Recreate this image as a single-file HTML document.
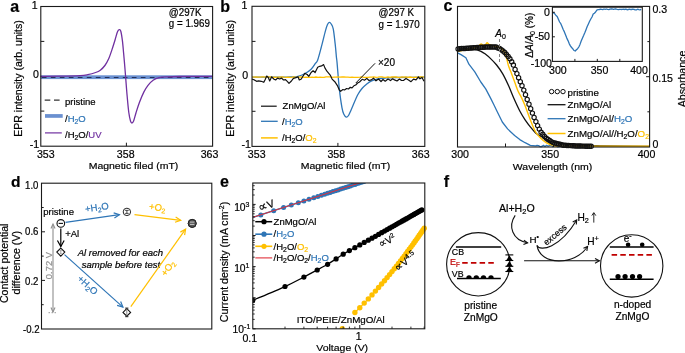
<!DOCTYPE html><html><head><meta charset="utf-8"><style>html,body{margin:0;padding:0;background:#fff;}svg{display:block;will-change:transform;}</style></head><body>
<svg width="685" height="353" viewBox="0 0 685 353" font-family="Liberation Sans, sans-serif">
<rect width="685" height="353" fill="#fff"/>
<text x="10.3" y="11.6" font-size="16.00" text-anchor="start" fill="#000" font-weight="bold" stroke="#000" stroke-width="0.2">a</text>
<rect x="40.8" y="75.3" width="171.8" height="3.8" fill="#6a90d0"/>
<line x1="41.8" y1="77.5" x2="212.6" y2="77.5" stroke="#23305a" stroke-width="1.1" stroke-dasharray="4.7,4.3"/>
<path d="M40.50,76.30 C43.75,76.28 53.42,76.32 60.00,76.20 C66.58,76.08 75.37,75.87 80.00,75.60 C84.63,75.33 85.20,75.12 87.80,74.60 C90.40,74.08 93.52,73.23 95.60,72.50 C97.68,71.77 98.75,71.37 100.30,70.20 C101.85,69.03 103.48,67.45 104.90,65.50 C106.32,63.55 107.63,61.10 108.80,58.50 C109.97,55.90 110.85,53.02 111.90,49.90 C112.95,46.78 114.18,42.78 115.10,39.80 C116.02,36.82 116.70,33.68 117.40,32.00 C118.10,30.32 118.73,29.83 119.30,29.70 C119.87,29.57 120.28,29.38 120.80,31.20 C121.32,33.02 121.93,36.97 122.40,40.60 C122.87,44.23 123.22,48.85 123.60,53.00 C123.98,57.15 124.35,61.33 124.70,65.50 C125.05,69.67 125.30,73.00 125.70,78.00 C126.10,83.00 126.58,89.75 127.10,95.50 C127.62,101.25 128.23,108.25 128.80,112.50 C129.37,116.75 129.98,119.25 130.50,121.00 C131.02,122.75 131.38,123.00 131.90,123.00 C132.42,123.00 132.90,122.75 133.60,121.00 C134.30,119.25 135.12,115.62 136.10,112.50 C137.08,109.38 138.22,105.70 139.50,102.30 C140.78,98.90 142.38,94.93 143.80,92.10 C145.22,89.27 146.45,87.28 148.00,85.30 C149.55,83.32 151.25,81.48 153.10,80.20 C154.95,78.92 156.68,78.17 159.10,77.60 C161.52,77.03 164.22,76.98 167.60,76.80 C170.98,76.62 174.00,76.57 179.40,76.50 C184.80,76.43 194.48,76.42 200.00,76.40 C205.52,76.38 210.42,76.40 212.50,76.40" fill="none" stroke="#7030a0" stroke-width="1.3"/>
<rect x="40.8" y="6.5" width="171.8" height="139.7" fill="none" stroke="#1a1a1a" stroke-width="1.1"/>
<line x1="40.8" y1="41.4" x2="44.3" y2="41.4" stroke="#1a1a1a" stroke-width="1"/>
<line x1="40.8" y1="111.1" x2="44.3" y2="111.1" stroke="#1a1a1a" stroke-width="1"/>
<line x1="126.4" y1="146.2" x2="126.4" y2="142.7" stroke="#1a1a1a" stroke-width="1"/>
<text transform="translate(37.60,9.30) scale(1,1.050)" font-size="10.60" text-anchor="end" fill="#000"  stroke="#000" stroke-width="0.2">1</text>
<text transform="translate(38.80,78.20) scale(1,1.050)" font-size="10.60" text-anchor="end" fill="#000"  stroke="#000" stroke-width="0.2">0</text>
<text transform="translate(39.20,148.00) scale(1,1.050)" font-size="10.60" text-anchor="end" fill="#000"  stroke="#000" stroke-width="0.2">-1</text>
<text transform="translate(45.80,158.00) scale(1,1.050)" font-size="10.60" text-anchor="middle" fill="#000"  stroke="#000" stroke-width="0.2">353</text>
<text transform="translate(125.70,158.00) scale(1,1.050)" font-size="10.60" text-anchor="middle" fill="#000"  stroke="#000" stroke-width="0.2">358</text>
<text transform="translate(209.50,158.00) scale(1,1.050)" font-size="10.60" text-anchor="middle" fill="#000"  stroke="#000" stroke-width="0.2">363</text>
<text transform="translate(133.50,169.20) scale(1,0.900)" font-size="10.50" text-anchor="middle" fill="#000"  stroke="#000" stroke-width="0.2">Magnetic filed (mT)</text>
<text transform="translate(22.3,78.5) rotate(-90)" font-size="10.55" text-anchor="middle" stroke="#000" stroke-width="0.2">EPR intensity (arb. units)</text>
<text transform="translate(168.80,16.00) scale(1,1.080)" font-size="9.80" text-anchor="start" fill="#000"  stroke="#000" stroke-width="0.2">@297K</text>
<text transform="translate(168.80,27.10) scale(1,1.080)" font-size="9.80" text-anchor="start" fill="#000"  stroke="#000" stroke-width="0.2">g = 1.969</text>
<line x1="44.7" y1="100.2" x2="60.5" y2="100.2" stroke="#333" stroke-width="1.3" stroke-dasharray="5.6,3.7"/>
<text x="65.0" y="104.7" font-size="9.50" text-anchor="start" fill="#000"  stroke="#000" stroke-width="0.2">pristine</text>
<rect x="45" y="114.1" width="17.7" height="3.7" fill="#6a90d0"/>
<text x="65" y="121.5" font-size="9.5" stroke="#000" stroke-width="0.2">/<tspan fill="#2e75b6" stroke="#2e75b6">H<tspan font-size="6.8" dy="2">2</tspan><tspan dy="-2">O</tspan></tspan></text>
<line x1="45" y1="132.9" x2="61.8" y2="132.9" stroke="#7030a0" stroke-width="1.2"/>
<text x="65" y="138.0" font-size="9.5" stroke="#000" stroke-width="0.2">/H<tspan font-size="6.8" dy="2">2</tspan><tspan dy="-2">O/</tspan><tspan fill="#7030a0" stroke="#7030a0">UV</tspan></text>
<text x="220.2" y="11.6" font-size="16.00" text-anchor="start" fill="#000" font-weight="bold" stroke="#000" stroke-width="0.2">b</text>
<path d="M252.00,77.20 C256.67,77.20 273.50,77.23 280.00,77.20 C286.50,77.17 288.00,77.15 291.00,77.00 C294.00,76.85 295.73,76.83 298.00,76.30 C300.27,75.77 302.42,74.98 304.60,73.80 C306.78,72.62 309.27,70.98 311.10,69.20 C312.93,67.42 314.50,64.63 315.60,63.10 C316.70,61.57 316.77,62.60 317.70,60.00 C318.63,57.40 319.90,52.40 321.20,47.50 C322.50,42.60 324.45,34.43 325.50,30.60 C326.55,26.77 326.87,25.87 327.50,24.50 C328.13,23.13 328.68,22.48 329.30,22.40 C329.92,22.32 330.53,22.87 331.20,24.00 C331.87,25.13 332.60,25.52 333.30,29.20 C334.00,32.88 334.88,41.47 335.40,46.10 C335.92,50.73 336.12,54.17 336.40,57.00 C336.68,59.83 336.63,58.00 337.10,63.10 C337.57,68.20 338.38,80.13 339.20,87.60 C340.02,95.07 341.20,103.42 342.00,107.90 C342.80,112.38 343.30,112.97 344.00,114.50 C344.70,116.03 345.45,116.93 346.20,117.10 C346.95,117.27 347.67,116.73 348.50,115.50 C349.33,114.27 349.68,113.12 351.20,109.70 C352.72,106.28 355.80,98.53 357.60,95.00 C359.40,91.47 360.47,90.33 362.00,88.50 C363.53,86.67 365.30,85.22 366.80,84.00 C368.30,82.78 369.47,81.98 371.00,81.20 C372.53,80.42 373.67,79.83 376.00,79.30 C378.33,78.77 381.92,78.30 385.00,78.00 C388.08,77.70 387.87,77.63 394.50,77.50 C401.13,77.37 419.75,77.25 424.80,77.20" fill="none" stroke="#2e75b6" stroke-width="1.3"/>
<polyline points="252.0,76.9 254.0,77.1 256.0,77.0 258.0,77.2 260.0,77.2 262.0,76.8 264.0,76.8 266.0,77.3 268.0,76.9 270.0,76.9 272.0,77.4 274.0,77.1 276.0,77.3 278.0,77.1 280.0,77.2 282.0,76.9 284.0,77.2 286.0,77.4 288.0,77.1 290.0,77.3 292.0,77.2 294.0,76.8 296.0,77.3 298.0,77.2 300.0,77.0 302.0,76.8 304.0,77.4 306.0,77.1 308.0,77.3 310.0,77.4 312.0,77.2 314.0,77.4 316.0,77.0 318.0,77.3 320.0,77.1 322.0,77.4 324.0,77.4 326.0,76.8 328.0,76.8 330.0,76.9 332.0,77.4 334.0,77.1 336.0,77.2 338.0,77.0 340.0,77.1 342.0,77.0 344.0,77.0 346.0,77.2 348.0,77.2 350.0,77.4 352.0,77.2 354.0,77.4 356.0,77.3 358.0,77.4 360.0,77.2 362.0,76.9 364.0,77.4 366.0,77.4 368.0,77.4 370.0,77.1 372.0,77.2 374.0,76.9 376.0,77.3 378.0,77.2 380.0,76.9 382.0,76.8 384.0,77.3 386.0,77.4 388.0,76.8 390.0,77.3 392.0,77.0 394.0,76.9 396.0,77.0 398.0,77.3 400.0,77.4 402.0,76.8 404.0,77.2 406.0,76.8 408.0,77.3 410.0,77.0 412.0,77.4 414.0,77.4 416.0,77.1 418.0,77.4 420.0,77.0 422.0,76.8 424.0,77.2" fill="none" stroke="#ffc000" stroke-width="1.3"/>
<polyline points="252.0,79.1 254.0,79.7 256.6,81.3 258.6,80.8 261.2,81.3 263.8,82.3 265.1,79.7 266.7,76.0 268.4,77.7 269.7,81.0 271.7,76.8 273.7,79.0 275.6,80.0 277.6,78.1 279.6,79.0 281.6,78.1 283.5,80.0 285.5,79.7 287.5,81.7 289.0,83.4 291.4,81.0 293.4,78.4 296.0,77.7 298.0,76.8 299.3,80.0 301.3,79.0 303.2,75.8 304.8,73.4 307.2,74.5 308.8,76.4 311.1,72.5 313.1,70.8 315.1,72.5 317.7,67.2 319.7,66.3 321.6,65.9 323.6,64.6 324.9,67.9 326.9,71.2 330.2,75.1 332.1,79.1 334.8,81.7 337.4,85.6 339.4,90.2 340.6,91.4 342.9,89.5 344.5,90.0 346.6,88.5 348.5,89.0 350.3,87.3 352.0,87.8 353.9,85.8 355.7,85.0 357.6,83.0 359.5,82.0 362.2,79.3 364.5,80.2 366.8,78.4 369.0,80.5 371.4,79.9 373.5,78.2 376.0,80.8 378.5,79.0 381.0,81.5 383.0,79.5 385.2,81.2 388.0,79.0 390.5,80.6 392.5,78.8 394.5,79.9 397.0,81.0 399.5,79.0 401.5,80.5 403.7,80.3 406.0,78.6 408.5,80.0 411.0,81.7 413.5,79.2 416.0,79.8 418.4,77.0 420.0,78.8 422.0,77.5 424.0,81.2" fill="none" stroke="#111" stroke-width="1.2" stroke-linejoin="round"/>
<line x1="375.1" y1="63.3" x2="355.8" y2="83" stroke="#111" stroke-width="1"/>
<text x="378.0" y="65.6" font-size="10.00" text-anchor="start" fill="#000"  stroke="#000" stroke-width="0.2">&#215;20</text>
<rect x="252.0" y="6.3" width="172.8" height="140.1" fill="none" stroke="#1a1a1a" stroke-width="1.1"/>
<line x1="252.0" y1="41.4" x2="255.5" y2="41.4" stroke="#1a1a1a" stroke-width="1"/>
<line x1="252.0" y1="111.3" x2="255.5" y2="111.3" stroke="#1a1a1a" stroke-width="1"/>
<line x1="337.9" y1="146.4" x2="337.9" y2="142.9" stroke="#1a1a1a" stroke-width="1"/>
<text transform="translate(247.40,9.00) scale(1,1.050)" font-size="10.60" text-anchor="end" fill="#000"  stroke="#000" stroke-width="0.2">1</text>
<text transform="translate(248.20,78.60) scale(1,1.050)" font-size="10.60" text-anchor="end" fill="#000"  stroke="#000" stroke-width="0.2">0</text>
<text transform="translate(250.80,148.20) scale(1,1.050)" font-size="10.60" text-anchor="end" fill="#000"  stroke="#000" stroke-width="0.2">-1</text>
<text transform="translate(256.70,158.00) scale(1,1.050)" font-size="10.60" text-anchor="middle" fill="#000"  stroke="#000" stroke-width="0.2">353</text>
<text transform="translate(336.30,158.00) scale(1,1.050)" font-size="10.60" text-anchor="middle" fill="#000"  stroke="#000" stroke-width="0.2">358</text>
<text transform="translate(420.70,158.00) scale(1,1.050)" font-size="10.60" text-anchor="middle" fill="#000"  stroke="#000" stroke-width="0.2">363</text>
<text transform="translate(345.50,169.40) scale(1,0.900)" font-size="10.50" text-anchor="middle" fill="#000"  stroke="#000" stroke-width="0.2">Magnetic filed (mT)</text>
<text transform="translate(234.0,78.3) rotate(-90)" font-size="10.55" text-anchor="middle" stroke="#000" stroke-width="0.2">EPR intensity (arb. units)</text>
<text transform="translate(378.60,16.20) scale(1,1.100)" font-size="9.80" text-anchor="start" fill="#000"  stroke="#000" stroke-width="0.2">@297 K</text>
<text transform="translate(378.60,27.50) scale(1,1.100)" font-size="9.80" text-anchor="start" fill="#000"  stroke="#000" stroke-width="0.2">g = 1.970</text>
<line x1="261" y1="106.2" x2="276.7" y2="106.2" stroke="#111" stroke-width="1.2"/>
<text x="282.6" y="108.6" font-size="9.50" text-anchor="start" fill="#000"  stroke="#000" stroke-width="0.2">ZnMgO/Al</text>
<line x1="261" y1="121.3" x2="277.7" y2="121.3" stroke="#2e75b6" stroke-width="1.3"/>
<text x="282" y="124.6" font-size="9.5" stroke="#000" stroke-width="0.2">/<tspan fill="#2e75b6" stroke="#2e75b6">H<tspan font-size="6.8" dy="2">2</tspan><tspan dy="-2">O</tspan></tspan></text>
<line x1="261" y1="137.9" x2="277.7" y2="137.9" stroke="#ffc000" stroke-width="1.5"/>
<text x="282" y="141.2" font-size="9.5" stroke="#000" stroke-width="0.2">/H<tspan font-size="6.8" dy="2">2</tspan><tspan dy="-2">O/</tspan><tspan fill="#ffc000" stroke="#ffc000">O<tspan font-size="6.8" dy="2">2</tspan></tspan></text>
<text x="443.4" y="11.4" font-size="16.00" text-anchor="start" fill="#000" font-weight="bold" stroke="#000" stroke-width="0.2">c</text>
<polyline points="457.5,52.9 461.0,54.6 465.9,57.7 468.9,64.2 474.8,71.9 480.8,82.0 485.7,88.9 490.7,98.4 494.0,105.0 497.0,111.2 502.3,122.0 507.6,128.9 514.6,135.5 519.8,139.6 525.1,142.7 530.3,145.3 535.6,145.8 537.0,145.5 538.6,145.6 540.2,146.7 541.8,146.5 543.4,145.4 545.0,146.5 546.6,145.3 548.2,146.2 549.8,145.3 551.4,145.1 553.0,146.7 554.6,145.5 556.2,145.5 557.8,146.9 559.4,146.7 561.0,145.6 562.6,146.8 564.2,146.1 565.8,146.3 567.4,145.5 569.0,146.8 570.6,146.3 572.2,146.8 573.8,146.7 575.4,145.6 577.0,145.8 578.6,145.4 580.2,145.4 581.8,145.2 583.4,145.6 585.0,146.2 586.6,145.1 588.2,146.3 589.8,145.7 591.4,145.7 593.0,146.6 594.6,146.0 596.2,145.7 597.8,146.0 599.4,146.4" fill="none" stroke="#2e75b6" stroke-width="1.3" stroke-linejoin="round"/>
<path d="M457.50,49.00 C458.92,49.00 463.50,48.98 466.00,49.00 C468.50,49.02 470.67,48.97 472.50,49.10 C474.33,49.23 475.58,49.43 477.00,49.80 C478.42,50.17 479.67,50.63 481.00,51.30 C482.33,51.97 483.40,52.58 485.00,53.80 C486.60,55.02 488.67,56.73 490.60,58.60 C492.53,60.47 494.60,62.50 496.60,65.00 C498.60,67.50 500.62,70.18 502.60,73.60 C504.58,77.02 506.68,81.52 508.50,85.50 C510.32,89.48 511.62,93.25 513.50,97.50 C515.38,101.75 517.87,107.28 519.80,111.00 C521.73,114.72 523.35,117.17 525.10,119.80 C526.85,122.43 528.55,124.62 530.30,126.80 C532.05,128.98 533.55,131.15 535.60,132.90 C537.65,134.65 539.97,135.83 542.60,137.30 C545.23,138.77 548.48,140.68 551.40,141.70 C554.32,142.72 556.17,142.82 560.10,143.40 C564.03,143.98 568.35,144.77 575.00,145.20 C581.65,145.63 587.57,145.82 600.00,146.00 C612.43,146.18 641.33,146.25 649.60,146.30" fill="none" stroke="#111" stroke-width="1.3"/>
<path d="M457.50,51.20 C458.25,51.10 460.25,50.90 462.00,50.60 C463.75,50.30 466.00,49.87 468.00,49.40 C470.00,48.93 472.17,48.43 474.00,47.80 C475.83,47.17 477.80,46.23 479.00,45.60 C480.20,44.97 480.50,44.07 481.20,44.00 C481.90,43.93 482.48,45.10 483.20,45.20 C483.92,45.30 484.83,45.00 485.50,44.60 C486.17,44.20 486.58,42.80 487.20,42.80 C487.82,42.80 488.07,44.07 489.20,44.60 C490.33,45.13 492.37,45.60 494.00,46.00 C495.63,46.40 497.50,46.33 499.00,47.00 C500.50,47.67 501.83,48.50 503.00,50.00 C504.17,51.50 505.08,53.38 506.00,56.00 C506.92,58.62 507.58,62.78 508.50,65.70 C509.42,68.62 510.50,70.87 511.50,73.50 C512.50,76.13 513.42,78.58 514.50,81.50 C515.58,84.42 516.85,88.35 518.00,91.00 C519.15,93.65 520.22,94.93 521.40,97.40 C522.58,99.87 523.62,102.07 525.10,105.80 C526.58,109.53 528.55,115.43 530.30,119.80 C532.05,124.17 533.85,128.93 535.60,132.00 C537.35,135.07 539.05,136.43 540.80,138.20 C542.55,139.97 544.05,141.43 546.10,142.60 C548.15,143.77 549.95,144.60 553.10,145.20 C556.25,145.80 548.92,146.02 565.00,146.20 C581.08,146.38 635.50,146.28 649.60,146.30" fill="none" stroke="#ffc000" stroke-width="1.4"/>
<circle cx="458.1" cy="48.9" r="2.15" fill="none" stroke="#111" stroke-width="1.15"/>
<circle cx="459.8" cy="48.8" r="2.15" fill="none" stroke="#111" stroke-width="1.15"/>
<circle cx="461.5" cy="48.6" r="2.15" fill="none" stroke="#111" stroke-width="1.15"/>
<circle cx="463.3" cy="48.5" r="2.15" fill="none" stroke="#111" stroke-width="1.15"/>
<circle cx="465.0" cy="48.4" r="2.15" fill="none" stroke="#111" stroke-width="1.15"/>
<circle cx="466.7" cy="48.3" r="2.15" fill="none" stroke="#111" stroke-width="1.15"/>
<circle cx="468.4" cy="48.2" r="2.15" fill="none" stroke="#111" stroke-width="1.15"/>
<circle cx="470.2" cy="48.1" r="2.15" fill="none" stroke="#111" stroke-width="1.15"/>
<circle cx="471.9" cy="47.9" r="2.15" fill="none" stroke="#111" stroke-width="1.15"/>
<circle cx="473.6" cy="47.8" r="2.15" fill="none" stroke="#111" stroke-width="1.15"/>
<circle cx="475.4" cy="47.7" r="2.15" fill="none" stroke="#111" stroke-width="1.15"/>
<circle cx="477.1" cy="47.5" r="2.15" fill="none" stroke="#111" stroke-width="1.15"/>
<circle cx="478.8" cy="47.4" r="2.15" fill="none" stroke="#111" stroke-width="1.15"/>
<circle cx="480.6" cy="47.3" r="2.15" fill="none" stroke="#111" stroke-width="1.15"/>
<circle cx="482.3" cy="47.2" r="2.15" fill="none" stroke="#111" stroke-width="1.15"/>
<circle cx="484.0" cy="47.2" r="2.15" fill="none" stroke="#111" stroke-width="1.15"/>
<circle cx="485.7" cy="47.1" r="2.15" fill="none" stroke="#111" stroke-width="1.15"/>
<circle cx="487.5" cy="47.1" r="2.15" fill="none" stroke="#111" stroke-width="1.15"/>
<circle cx="489.2" cy="47.0" r="2.15" fill="none" stroke="#111" stroke-width="1.15"/>
<circle cx="490.9" cy="47.0" r="2.15" fill="none" stroke="#111" stroke-width="1.15"/>
<circle cx="492.7" cy="47.0" r="2.15" fill="none" stroke="#111" stroke-width="1.15"/>
<circle cx="494.4" cy="46.9" r="2.15" fill="none" stroke="#111" stroke-width="1.15"/>
<circle cx="496.1" cy="47.1" r="2.15" fill="none" stroke="#111" stroke-width="1.15"/>
<circle cx="497.8" cy="47.9" r="2.15" fill="none" stroke="#111" stroke-width="1.15"/>
<circle cx="499.6" cy="48.6" r="2.15" fill="none" stroke="#111" stroke-width="1.15"/>
<circle cx="501.3" cy="49.7" r="2.15" fill="none" stroke="#111" stroke-width="1.15"/>
<circle cx="503.0" cy="50.9" r="2.15" fill="none" stroke="#111" stroke-width="1.15"/>
<circle cx="504.8" cy="52.6" r="2.15" fill="none" stroke="#111" stroke-width="1.15"/>
<circle cx="506.5" cy="54.5" r="2.15" fill="none" stroke="#111" stroke-width="1.15"/>
<circle cx="508.2" cy="56.6" r="2.15" fill="none" stroke="#111" stroke-width="1.15"/>
<circle cx="509.9" cy="58.8" r="2.15" fill="none" stroke="#111" stroke-width="1.15"/>
<circle cx="511.7" cy="61.8" r="2.15" fill="none" stroke="#111" stroke-width="1.15"/>
<circle cx="513.4" cy="65.1" r="2.15" fill="none" stroke="#111" stroke-width="1.15"/>
<circle cx="515.1" cy="69.4" r="2.15" fill="none" stroke="#111" stroke-width="1.15"/>
<circle cx="516.9" cy="73.6" r="2.15" fill="none" stroke="#111" stroke-width="1.15"/>
<circle cx="518.6" cy="77.7" r="2.15" fill="none" stroke="#111" stroke-width="1.15"/>
<circle cx="520.3" cy="81.7" r="2.15" fill="none" stroke="#111" stroke-width="1.15"/>
<circle cx="522.0" cy="85.7" r="2.15" fill="none" stroke="#111" stroke-width="1.15"/>
<circle cx="523.8" cy="90.1" r="2.15" fill="none" stroke="#111" stroke-width="1.15"/>
<circle cx="525.5" cy="94.7" r="2.15" fill="none" stroke="#111" stroke-width="1.15"/>
<circle cx="527.2" cy="99.4" r="2.15" fill="none" stroke="#111" stroke-width="1.15"/>
<circle cx="529.0" cy="104.2" r="2.15" fill="none" stroke="#111" stroke-width="1.15"/>
<circle cx="530.7" cy="108.7" r="2.15" fill="none" stroke="#111" stroke-width="1.15"/>
<circle cx="532.4" cy="113.1" r="2.15" fill="none" stroke="#111" stroke-width="1.15"/>
<circle cx="534.1" cy="117.4" r="2.15" fill="none" stroke="#111" stroke-width="1.15"/>
<circle cx="535.9" cy="121.6" r="2.15" fill="none" stroke="#111" stroke-width="1.15"/>
<circle cx="537.6" cy="125.6" r="2.15" fill="none" stroke="#111" stroke-width="1.15"/>
<circle cx="539.3" cy="129.1" r="2.15" fill="none" stroke="#111" stroke-width="1.15"/>
<circle cx="541.1" cy="132.3" r="2.15" fill="none" stroke="#111" stroke-width="1.15"/>
<circle cx="542.8" cy="134.3" r="2.15" fill="none" stroke="#111" stroke-width="1.15"/>
<circle cx="544.5" cy="136.4" r="2.15" fill="none" stroke="#111" stroke-width="1.15"/>
<circle cx="546.3" cy="138.3" r="2.15" fill="none" stroke="#111" stroke-width="1.15"/>
<circle cx="548.0" cy="139.4" r="2.15" fill="none" stroke="#111" stroke-width="1.15"/>
<circle cx="549.7" cy="140.5" r="2.15" fill="none" stroke="#111" stroke-width="1.15"/>
<circle cx="551.4" cy="141.6" r="2.15" fill="none" stroke="#111" stroke-width="1.15"/>
<circle cx="553.2" cy="142.6" r="2.15" fill="none" stroke="#111" stroke-width="1.15"/>
<circle cx="554.9" cy="143.0" r="2.15" fill="none" stroke="#111" stroke-width="1.15"/>
<circle cx="556.6" cy="143.5" r="2.15" fill="none" stroke="#111" stroke-width="1.15"/>
<circle cx="558.4" cy="143.9" r="2.15" fill="none" stroke="#111" stroke-width="1.15"/>
<circle cx="560.1" cy="144.3" r="2.15" fill="none" stroke="#111" stroke-width="1.15"/>
<circle cx="561.8" cy="144.8" r="2.15" fill="none" stroke="#111" stroke-width="1.15"/>
<circle cx="563.5" cy="145.2" r="2.15" fill="none" stroke="#111" stroke-width="1.15"/>
<circle cx="565.3" cy="145.3" r="2.15" fill="none" stroke="#111" stroke-width="1.15"/>
<circle cx="567.0" cy="145.4" r="2.15" fill="none" stroke="#111" stroke-width="1.15"/>
<circle cx="568.7" cy="145.5" r="2.15" fill="none" stroke="#111" stroke-width="1.15"/>
<circle cx="570.5" cy="145.6" r="2.15" fill="none" stroke="#111" stroke-width="1.15"/>
<circle cx="572.2" cy="145.7" r="2.15" fill="none" stroke="#111" stroke-width="1.15"/>
<circle cx="573.9" cy="145.8" r="2.15" fill="none" stroke="#111" stroke-width="1.15"/>
<circle cx="575.6" cy="145.9" r="2.15" fill="none" stroke="#111" stroke-width="1.15"/>
<circle cx="577.4" cy="146.0" r="2.15" fill="none" stroke="#111" stroke-width="1.15"/>
<circle cx="579.1" cy="146.0" r="2.15" fill="none" stroke="#111" stroke-width="1.15"/>
<circle cx="580.8" cy="146.0" r="2.15" fill="none" stroke="#111" stroke-width="1.15"/>
<circle cx="582.6" cy="146.1" r="2.15" fill="none" stroke="#111" stroke-width="1.15"/>
<circle cx="584.3" cy="146.1" r="2.15" fill="none" stroke="#111" stroke-width="1.15"/>
<circle cx="586.0" cy="146.2" r="2.15" fill="none" stroke="#111" stroke-width="1.15"/>
<circle cx="587.7" cy="146.2" r="2.15" fill="none" stroke="#111" stroke-width="1.15"/>
<circle cx="589.5" cy="146.2" r="2.15" fill="none" stroke="#111" stroke-width="1.15"/>
<circle cx="591.2" cy="146.3" r="2.15" fill="none" stroke="#111" stroke-width="1.15"/>
<line x1="499.5" y1="39" x2="499.5" y2="62" stroke="#808080" stroke-width="1" stroke-dasharray="3,2"/>
<text x="495.3" y="37.0" font-size="10" font-style="italic" stroke="#000" stroke-width="0.2">A<tspan font-style="normal" font-size="7" dy="2">0</tspan></text>
<rect x="457.5" y="6.4" width="192.1" height="140.6" fill="none" stroke="#1a1a1a" stroke-width="1.1"/>
<line x1="505.5" y1="147.0" x2="505.5" y2="143.5" stroke="#1a1a1a" stroke-width="1"/>
<line x1="553.5" y1="147.0" x2="553.5" y2="143.5" stroke="#1a1a1a" stroke-width="1"/>
<line x1="649.6" y1="76.7" x2="646.1" y2="76.7" stroke="#1a1a1a" stroke-width="1"/>
<line x1="649.6" y1="41.6" x2="647.4" y2="41.6" stroke="#1a1a1a" stroke-width="1"/>
<line x1="649.6" y1="111.8" x2="647.4" y2="111.8" stroke="#1a1a1a" stroke-width="1"/>
<text transform="translate(460.10,158.40) scale(1,1.050)" font-size="10.60" text-anchor="middle" fill="#000"  stroke="#000" stroke-width="0.2">300</text>
<text transform="translate(550.20,158.40) scale(1,1.050)" font-size="10.60" text-anchor="middle" fill="#000"  stroke="#000" stroke-width="0.2">350</text>
<text transform="translate(646.50,158.40) scale(1,1.050)" font-size="10.60" text-anchor="middle" fill="#000"  stroke="#000" stroke-width="0.2">400</text>
<text transform="translate(552.50,169.60) scale(1,0.910)" font-size="10.50" text-anchor="middle" fill="#000"  stroke="#000" stroke-width="0.2">Wavelength (nm)</text>
<text transform="translate(652.40,12.80) scale(1,1.050)" font-size="10.60" text-anchor="start" fill="#000"  stroke="#000" stroke-width="0.2">0.3</text>
<text transform="translate(652.40,82.00) scale(1,1.050)" font-size="10.60" text-anchor="start" fill="#000"  stroke="#000" stroke-width="0.2">0.15</text>
<text transform="translate(652.60,148.40) scale(1,1.050)" font-size="10.60" text-anchor="start" fill="#000"  stroke="#000" stroke-width="0.2">0</text>
<text transform="translate(686.0,79.0) rotate(-90)" font-size="10.6" text-anchor="middle" stroke="#000" stroke-width="0.2">Absorbance</text>
<rect x="552.4" y="7.2" width="89.9" height="54.2" fill="#fff" stroke="none"/>
<polyline points="552.4,11.9 553.6,12.9 554.8,13.8 556.0,15.5 557.2,16.5 558.4,19.3 559.6,22.0 560.8,23.7 562.0,26.6 563.2,29.5 564.4,31.9 565.6,35.0 566.8,38.1 568.0,40.6 569.2,43.6 570.4,45.9 571.6,47.5 572.8,48.8 574.0,50.5 575.2,51.0 576.4,49.7 577.6,48.7 578.8,47.0 580.0,44.4 581.2,41.0 582.4,38.2 583.6,35.6 584.8,32.8 586.0,29.7 587.2,26.6 588.4,23.9 589.6,21.3 590.8,19.0 592.0,17.0 593.2,14.1 594.4,13.2 595.6,12.0 596.8,10.1 598.0,9.7 599.2,9.7 600.4,9.2 601.6,9.4 602.8,9.6 604.0,9.0 605.2,9.4 606.4,9.0 607.6,9.4 608.8,9.6 610.0,9.1 611.2,8.9 612.4,9.0 613.6,9.4 614.8,9.0 616.0,9.0 617.2,9.4 618.4,9.7 619.6,9.3 620.8,9.3 622.0,9.5 623.2,9.1 624.4,9.5 625.6,9.2 626.8,9.5 628.0,9.8 629.2,9.1 630.4,9.5 631.6,9.5 632.8,9.2 634.0,9.3 635.2,9.9 636.4,9.9 637.6,9.2 638.8,9.6 640.0,9.8 641.2,9.3" fill="none" stroke="#2e75b6" stroke-width="1.3" stroke-linejoin="round"/>
<rect x="552.4" y="7.2" width="89.9" height="54.2" fill="none" stroke="#1a1a1a" stroke-width="1.1"/>
<line x1="574.9" y1="61.4" x2="574.9" y2="58.9" stroke="#1a1a1a" stroke-width="1"/>
<line x1="597.3" y1="61.4" x2="597.3" y2="58.9" stroke="#1a1a1a" stroke-width="1"/>
<line x1="619.8" y1="61.4" x2="619.8" y2="58.9" stroke="#1a1a1a" stroke-width="1"/>
<line x1="552.4" y1="12.3" x2="554.9" y2="12.3" stroke="#1a1a1a" stroke-width="1"/>
<line x1="552.4" y1="36.8" x2="554.9" y2="36.8" stroke="#1a1a1a" stroke-width="1"/>
<text transform="translate(550.00,15.60) scale(1,1.050)" font-size="10.60" text-anchor="end" fill="#000"  stroke="#000" stroke-width="0.2">0</text>
<text transform="translate(550.00,40.30) scale(1,1.050)" font-size="10.60" text-anchor="end" fill="#000"  stroke="#000" stroke-width="0.2">-50</text>
<text transform="translate(552.00,66.80) scale(1,1.050)" font-size="10.60" text-anchor="end" fill="#000"  stroke="#000" stroke-width="0.2">-100</text>
<text transform="translate(557.90,74.10) scale(1,1.050)" font-size="10.60" text-anchor="middle" fill="#000"  stroke="#000" stroke-width="0.2">300</text>
<text transform="translate(599.50,74.10) scale(1,1.050)" font-size="10.60" text-anchor="middle" fill="#000"  stroke="#000" stroke-width="0.2">350</text>
<text transform="translate(639.00,74.10) scale(1,1.050)" font-size="10.60" text-anchor="middle" fill="#000"  stroke="#000" stroke-width="0.2">400</text>
<text transform="translate(533.2,35.2) rotate(-90)" font-size="10" text-anchor="middle" stroke="#000" stroke-width="0.2">&#916;<tspan font-style="italic">A</tspan>/<tspan font-style="italic">A</tspan><tspan font-size="7" dy="1.5">0</tspan><tspan dy="-1.5"> (%)</tspan></text>
<circle cx="551.6" cy="91.6" r="2.2" fill="none" stroke="#111" stroke-width="1.0"/>
<circle cx="557.3" cy="91.6" r="2.2" fill="none" stroke="#111" stroke-width="1.0"/>
<circle cx="563.0" cy="91.6" r="2.2" fill="none" stroke="#111" stroke-width="1.0"/>
<text x="567.6" y="95.6" font-size="9.70" text-anchor="start" fill="#000"  stroke="#000" stroke-width="0.2">pristine</text>
<line x1="547.6" y1="104.7" x2="565.5" y2="104.7" stroke="#111" stroke-width="1.3"/>
<text x="567.6" y="108.3" font-size="9.70" text-anchor="start" fill="#000"  stroke="#000" stroke-width="0.2">ZnMgO/Al</text>
<line x1="547.6" y1="118.7" x2="565.5" y2="118.7" stroke="#2e75b6" stroke-width="1.3"/>
<text x="567.6" y="122.3" font-size="9.7" stroke="#000" stroke-width="0.2">ZnMgO/Al/<tspan fill="#2e75b6" stroke="#2e75b6">H<tspan font-size="6.8" dy="2">2</tspan><tspan dy="-2">O</tspan></tspan></text>
<line x1="547.6" y1="133.5" x2="565.5" y2="133.5" stroke="#ffc000" stroke-width="1.5"/>
<text x="567.6" y="137.1" font-size="9.7" stroke="#000" stroke-width="0.2">ZnMgO/Al//H<tspan font-size="6.8" dy="2">2</tspan><tspan dy="-2">O/</tspan><tspan fill="#ffc000" stroke="#ffc000">O<tspan font-size="6.8" dy="2">2</tspan></tspan></text>
<text x="11.0" y="186.5" font-size="15.50" text-anchor="start" fill="#000" font-weight="bold" stroke="#000" stroke-width="0.2">d</text>
<rect x="41.5" y="183.2" width="170.3" height="145.8" fill="none" stroke="#1a1a1a" stroke-width="1.1"/>
<line x1="41.5" y1="231.8" x2="45.0" y2="231.8" stroke="#1a1a1a" stroke-width="1"/>
<line x1="41.5" y1="280.4" x2="45.0" y2="280.4" stroke="#1a1a1a" stroke-width="1"/>
<line x1="41.5" y1="207.5" x2="43.7" y2="207.5" stroke="#1a1a1a" stroke-width="1"/>
<line x1="41.5" y1="256.1" x2="43.7" y2="256.1" stroke="#1a1a1a" stroke-width="1"/>
<line x1="41.5" y1="304.7" x2="43.7" y2="304.7" stroke="#1a1a1a" stroke-width="1"/>
<text transform="translate(38.40,189.00) scale(1,1.160)" font-size="9.60" text-anchor="end" fill="#000"  stroke="#000" stroke-width="0.2">1.0</text>
<text transform="translate(38.40,235.40) scale(1,1.160)" font-size="9.60" text-anchor="end" fill="#000"  stroke="#000" stroke-width="0.2">0.6</text>
<text transform="translate(38.40,284.60) scale(1,1.160)" font-size="9.60" text-anchor="end" fill="#000"  stroke="#000" stroke-width="0.2">0.2</text>
<text transform="translate(39.60,333.20) scale(1,1.160)" font-size="9.60" text-anchor="end" fill="#000"  stroke="#000" stroke-width="0.2">-0.2</text>
<text transform="translate(8.0,263.3) rotate(-90)" font-size="10.6" text-anchor="middle" stroke="#000" stroke-width="0.2">Contact potential</text>
<text transform="translate(20.0,262.7) rotate(-90)" font-size="10.6" text-anchor="middle" stroke="#000" stroke-width="0.2">difference (V)</text>
<line x1="53.0" y1="224.5" x2="53.0" y2="312.0" stroke="#8e8e8e" stroke-width="1.1"/>
<polyline points="55.04,228.57 53.00,224.00 50.96,228.57" fill="none" stroke="#8e8e8e" stroke-width="1.10" stroke-linejoin="miter"/>
<polyline points="50.96,307.43 53.00,312.00 55.04,307.43" fill="none" stroke="#8e8e8e" stroke-width="1.10" stroke-linejoin="miter"/>
<line x1="48.5" y1="312.7" x2="57.5" y2="312.7" stroke="#8e8e8e" stroke-width="0.9" stroke-dasharray="1.5,1.5"/>
<text transform="translate(52.4,265.6) rotate(-90)" font-size="9.4" text-anchor="middle" fill="#8e8e8e" stroke="#8e8e8e" stroke-width="0.2">0.72 V</text>
<text x="43.3" y="215.3" font-size="9.50" text-anchor="start" fill="#000"  stroke="#000" stroke-width="0.2">pristine</text>
<text x="65.2" y="237.2" font-size="9.50" text-anchor="start" fill="#000"  stroke="#000" stroke-width="0.2">+Al</text>
<text x="120.4" y="256.2" font-size="9.55" font-style="italic" text-anchor="middle" stroke="#000" stroke-width="0.2">Al removed for each</text>
<text x="120.9" y="267.8" font-size="9.55" font-style="italic" text-anchor="middle" stroke="#000" stroke-width="0.2">sample before test</text>
<line x1="65.50" y1="222.40" x2="119.40" y2="214.70" stroke="#2e75b6" stroke-width="1.20"/>
<polyline points="114.42,218.05 119.40,214.70 113.68,212.88" fill="none" stroke="#2e75b6" stroke-width="1.20" stroke-linejoin="miter"/>
<line x1="134.50" y1="214.70" x2="180.70" y2="220.30" stroke="#ffc000" stroke-width="1.20"/>
<polyline points="175.02,222.24 180.70,220.30 175.65,217.06" fill="none" stroke="#ffc000" stroke-width="1.20" stroke-linejoin="miter"/>
<line x1="60.80" y1="228.60" x2="60.80" y2="246.60" stroke="#000" stroke-width="1.20"/>
<polyline points="57.44,240.46 60.80,246.60 64.16,240.46" fill="none" stroke="#000" stroke-width="1.20" stroke-linejoin="miter"/>
<line x1="64.50" y1="254.60" x2="122.90" y2="307.10" stroke="#2e75b6" stroke-width="1.20"/>
<polyline points="117.14,305.43 122.90,307.10 120.63,301.55" fill="none" stroke="#2e75b6" stroke-width="1.20" stroke-linejoin="miter"/>
<line x1="130.80" y1="306.60" x2="185.60" y2="229.20" stroke="#ffc000" stroke-width="1.20"/>
<polyline points="184.61,235.12 185.60,229.20 180.35,232.10" fill="none" stroke="#ffc000" stroke-width="1.20" stroke-linejoin="miter"/>
<text transform="translate(97.3,210.6) rotate(-8)" font-size="9.5" fill="#2e75b6" text-anchor="middle" stroke="#2e75b6" stroke-width="0.2">+H<tspan font-size="6.8" dy="2">2</tspan><tspan dy="-2">O</tspan></text>
<text transform="translate(157.0,210.5) rotate(7)" font-size="9.5" fill="#ffc000" text-anchor="middle" stroke="#ffc000" stroke-width="0.2">+O<tspan font-size="6.8" dy="2">2</tspan></text>
<text transform="translate(85.5,287.5) rotate(42)" font-size="9.5" fill="#2e75b6" text-anchor="middle" stroke="#2e75b6" stroke-width="0.2">+H<tspan font-size="6.8" dy="2">2</tspan><tspan dy="-2">O</tspan></text>
<text transform="translate(170.5,270.0) rotate(-55)" font-size="9.5" fill="#ffc000" text-anchor="middle" stroke="#ffc000" stroke-width="0.2">+O<tspan font-size="6.8" dy="2">2</tspan></text>
<circle cx="60.8" cy="223.4" r="3.8" fill="#fff" stroke="#111" stroke-width="1.1"/>
<line x1="58.6" y1="223.4" x2="63.0" y2="223.4" stroke="#111" stroke-width="1.1"/>
<circle cx="126.9" cy="211.9" r="3.7" fill="#fff" stroke="#222" stroke-width="1.0"/>
<line x1="125.1" y1="210.4" x2="128.7" y2="210.4" stroke="#222" stroke-width="0.8"/>
<line x1="125.1" y1="213.4" x2="128.7" y2="213.4" stroke="#222" stroke-width="0.8"/>
<line x1="126.9" y1="210.4" x2="126.9" y2="213.4" stroke="#222" stroke-width="0.8"/>
<circle cx="192.2" cy="223.4" r="4.0" fill="#fff" stroke="#222" stroke-width="1.0"/>
<circle cx="192.2" cy="223.4" r="4.0" fill="#555" stroke="#222" stroke-width="1.0"/>
<line x1="190.0" y1="222.1" x2="194.4" y2="222.1" stroke="#e8e8e8" stroke-width="0.8"/>
<line x1="190.0" y1="224.4" x2="194.4" y2="224.4" stroke="#e8e8e8" stroke-width="0.8"/>
<polygon points="60.8,248.1 64.8,252.1 60.8,256.1 56.8,252.1" fill="#fff" stroke="#111" stroke-width="1.1"/>
<line x1="60.8" y1="250.6" x2="60.8" y2="253.6" stroke="#888" stroke-width="0.8"/>
<line x1="59.8" y1="250.6" x2="61.8" y2="250.6" stroke="#888" stroke-width="0.7"/>
<line x1="59.8" y1="253.6" x2="61.8" y2="253.6" stroke="#888" stroke-width="0.7"/>
<polygon points="126.8,308.6 130.6,312.4 126.8,316.2 123.0,312.4" fill="#fff" stroke="#111" stroke-width="1.1"/>
<line x1="126.8" y1="308.1" x2="126.8" y2="316.7" stroke="#777" stroke-width="0.9"/>
<line x1="125.2" y1="308.1" x2="128.4" y2="308.1" stroke="#222" stroke-width="1.0"/>
<line x1="125.2" y1="316.7" x2="128.4" y2="316.7" stroke="#222" stroke-width="1.0"/>
<text x="219.9" y="187.0" font-size="16.00" text-anchor="start" fill="#000" font-weight="bold" stroke="#000" stroke-width="0.2">e</text>
<defs><clipPath id="ce"><rect x="252.8" y="183.0" width="178.0" height="145.8"/></clipPath></defs>
<g clip-path="url(#ce)">
<polyline points="354.9,312.5 359.8,307.7 364.2,303.1 368.3,298.9 372.0,294.9 375.4,291.1 378.6,287.5 381.6,284.0 384.5,280.7 387.1,277.6 389.6,274.6 392.0,271.6 394.3,268.8 396.4,266.1 398.5,263.5 400.5,260.9 402.4,258.5 404.2,256.1 406.0,253.8 407.6,251.5 409.3,249.3 410.9,247.1 412.4,245.1 413.9,243.0 415.3,241.0 416.7,239.1 418.0,237.2 419.3,235.3 420.6,233.5 421.8,231.7 423.0,230.0 424.2,228.2" fill="none" stroke="#ffc000" stroke-width="1.2"/>
<circle cx="354.9" cy="312.5" r="2.7" fill="#ffc000"/>
<circle cx="359.8" cy="307.7" r="2.7" fill="#ffc000"/>
<circle cx="364.2" cy="303.1" r="2.7" fill="#ffc000"/>
<circle cx="368.3" cy="298.9" r="2.7" fill="#ffc000"/>
<circle cx="372.0" cy="294.9" r="2.7" fill="#ffc000"/>
<circle cx="375.4" cy="291.1" r="2.7" fill="#ffc000"/>
<circle cx="378.6" cy="287.5" r="2.7" fill="#ffc000"/>
<circle cx="381.6" cy="284.0" r="2.7" fill="#ffc000"/>
<circle cx="384.5" cy="280.7" r="2.7" fill="#ffc000"/>
<circle cx="387.1" cy="277.6" r="2.7" fill="#ffc000"/>
<circle cx="389.6" cy="274.6" r="2.7" fill="#ffc000"/>
<circle cx="392.0" cy="271.6" r="2.7" fill="#ffc000"/>
<circle cx="394.3" cy="268.8" r="2.7" fill="#ffc000"/>
<circle cx="396.4" cy="266.1" r="2.7" fill="#ffc000"/>
<circle cx="398.5" cy="263.5" r="2.7" fill="#ffc000"/>
<circle cx="400.5" cy="260.9" r="2.7" fill="#ffc000"/>
<circle cx="402.4" cy="258.5" r="2.7" fill="#ffc000"/>
<circle cx="404.2" cy="256.1" r="2.7" fill="#ffc000"/>
<circle cx="406.0" cy="253.8" r="2.7" fill="#ffc000"/>
<circle cx="407.6" cy="251.5" r="2.7" fill="#ffc000"/>
<circle cx="409.3" cy="249.3" r="2.7" fill="#ffc000"/>
<circle cx="410.9" cy="247.1" r="2.7" fill="#ffc000"/>
<circle cx="412.4" cy="245.1" r="2.7" fill="#ffc000"/>
<circle cx="413.9" cy="243.0" r="2.7" fill="#ffc000"/>
<circle cx="415.3" cy="241.0" r="2.7" fill="#ffc000"/>
<circle cx="416.7" cy="239.1" r="2.7" fill="#ffc000"/>
<circle cx="418.0" cy="237.2" r="2.7" fill="#ffc000"/>
<circle cx="419.3" cy="235.3" r="2.7" fill="#ffc000"/>
<circle cx="420.6" cy="233.5" r="2.7" fill="#ffc000"/>
<circle cx="421.8" cy="231.7" r="2.7" fill="#ffc000"/>
<circle cx="423.0" cy="230.0" r="2.7" fill="#ffc000"/>
<circle cx="424.2" cy="228.2" r="2.7" fill="#ffc000"/>
<circle cx="342.3" cy="328.8" r="2.7" fill="#ffc000"/>
<path d="M252.80,300.30 C258.17,298.01 276.50,290.42 285.01,286.54 C293.52,282.67 298.48,279.83 303.85,277.07 C309.22,274.31 313.26,272.11 317.22,269.98 C321.18,267.84 324.45,266.10 327.59,264.25 C330.73,262.41 333.46,260.57 336.06,258.90 C338.67,257.23 341.00,255.63 343.23,254.25 C345.45,252.86 347.48,251.67 349.43,250.57 C351.38,249.47 353.18,248.59 354.90,247.65 C356.63,246.71 358.25,245.82 359.80,244.94 C361.35,244.06 362.82,243.17 364.23,242.38 C365.64,241.59 366.98,240.88 368.27,240.19 C369.57,239.50 370.80,238.88 371.99,238.22 C373.19,237.57 374.33,236.89 375.44,236.26 C376.54,235.63 377.61,235.03 378.64,234.44 C379.68,233.85 380.67,233.29 381.64,232.74 C382.61,232.19 383.55,231.65 384.46,231.14 C385.37,230.62 386.25,230.11 387.11,229.63 C387.98,229.14 388.81,228.66 389.63,228.20 C390.44,227.73 391.24,227.28 392.01,226.84 C392.79,226.40 393.54,225.97 394.28,225.55 C395.02,225.13 395.73,224.72 396.44,224.32 C397.14,223.92 397.83,223.53 398.50,223.15 C399.18,222.77 399.84,222.39 400.48,222.02 C401.13,221.66 401.76,221.30 402.38,220.95 C403.00,220.59 403.61,220.25 404.20,219.91 C404.80,219.57 405.38,219.24 405.96,218.91 C406.53,218.59 407.09,218.27 407.65,217.95 C408.20,217.64 408.74,217.33 409.28,217.03 C409.81,216.72 410.34,216.42 410.85,216.13 C411.37,215.84 411.88,215.55 412.38,215.26 C412.88,214.98 413.37,214.70 413.85,214.42 C414.34,214.15 414.81,213.88 415.28,213.61 C415.75,213.34 416.21,213.08 416.67,212.82 C417.12,212.56 417.57,212.31 418.02,212.06 C418.46,211.81 418.89,211.56 419.32,211.31 C419.75,211.07 420.18,210.83 420.60,210.59 C421.02,210.35 421.63,210.00 421.84,209.88" fill="none" stroke="#000" stroke-width="1.3"/>
<circle cx="252.8" cy="300.3" r="2.6" fill="#000"/>
<circle cx="285.0" cy="286.5" r="2.6" fill="#000"/>
<circle cx="303.9" cy="277.1" r="2.6" fill="#000"/>
<circle cx="317.2" cy="270.0" r="2.6" fill="#000"/>
<circle cx="327.6" cy="264.3" r="2.6" fill="#000"/>
<circle cx="336.1" cy="258.9" r="2.6" fill="#000"/>
<circle cx="343.2" cy="254.2" r="2.6" fill="#000"/>
<circle cx="349.4" cy="250.6" r="2.6" fill="#000"/>
<circle cx="354.9" cy="247.7" r="2.6" fill="#000"/>
<circle cx="359.8" cy="244.9" r="2.6" fill="#000"/>
<circle cx="364.2" cy="242.4" r="2.6" fill="#000"/>
<circle cx="368.3" cy="240.2" r="2.6" fill="#000"/>
<circle cx="372.0" cy="238.2" r="2.6" fill="#000"/>
<circle cx="375.4" cy="236.3" r="2.6" fill="#000"/>
<circle cx="378.6" cy="234.4" r="2.6" fill="#000"/>
<circle cx="381.6" cy="232.7" r="2.6" fill="#000"/>
<circle cx="384.5" cy="231.1" r="2.6" fill="#000"/>
<circle cx="387.1" cy="229.6" r="2.6" fill="#000"/>
<circle cx="389.6" cy="228.2" r="2.6" fill="#000"/>
<circle cx="392.0" cy="226.8" r="2.6" fill="#000"/>
<circle cx="394.3" cy="225.6" r="2.6" fill="#000"/>
<circle cx="396.4" cy="224.3" r="2.6" fill="#000"/>
<circle cx="398.5" cy="223.1" r="2.6" fill="#000"/>
<circle cx="400.5" cy="222.0" r="2.6" fill="#000"/>
<circle cx="402.4" cy="220.9" r="2.6" fill="#000"/>
<circle cx="404.2" cy="219.9" r="2.6" fill="#000"/>
<circle cx="406.0" cy="218.9" r="2.6" fill="#000"/>
<circle cx="407.6" cy="218.0" r="2.6" fill="#000"/>
<circle cx="409.3" cy="217.0" r="2.6" fill="#000"/>
<circle cx="410.9" cy="216.1" r="2.6" fill="#000"/>
<circle cx="412.4" cy="215.3" r="2.6" fill="#000"/>
<circle cx="413.9" cy="214.4" r="2.6" fill="#000"/>
<circle cx="415.3" cy="213.6" r="2.6" fill="#000"/>
<circle cx="416.7" cy="212.8" r="2.6" fill="#000"/>
<circle cx="418.0" cy="212.1" r="2.6" fill="#000"/>
<circle cx="419.3" cy="211.3" r="2.6" fill="#000"/>
<circle cx="420.6" cy="210.6" r="2.6" fill="#000"/>
<circle cx="421.8" cy="209.9" r="2.6" fill="#000"/>
<line x1="252.8" y1="217.4" x2="365.0" y2="181.2" stroke="#2e75b6" stroke-width="1.6"/>
<circle cx="260.8" cy="214.9" r="2.5" fill="#2e75b6"/>
<circle cx="273.7" cy="210.7" r="2.5" fill="#2e75b6"/>
<circle cx="283.6" cy="207.5" r="2.5" fill="#2e75b6"/>
<circle cx="291.3" cy="205.0" r="2.5" fill="#2e75b6"/>
<circle cx="298.3" cy="202.7" r="2.5" fill="#2e75b6"/>
<circle cx="303.9" cy="200.9" r="2.5" fill="#2e75b6"/>
<circle cx="309.0" cy="199.3" r="2.5" fill="#2e75b6"/>
<circle cx="313.8" cy="197.7" r="2.5" fill="#2e75b6"/>
<circle cx="317.8" cy="196.4" r="2.5" fill="#2e75b6"/>
<circle cx="321.4" cy="195.3" r="2.5" fill="#2e75b6"/>
<circle cx="324.6" cy="194.2" r="2.5" fill="#2e75b6"/>
<circle cx="327.5" cy="193.3" r="2.5" fill="#2e75b6"/>
<circle cx="330.2" cy="192.4" r="2.5" fill="#2e75b6"/>
<circle cx="332.9" cy="191.5" r="2.5" fill="#2e75b6"/>
<circle cx="335.5" cy="190.7" r="2.5" fill="#2e75b6"/>
<circle cx="338.1" cy="189.9" r="2.5" fill="#2e75b6"/>
<circle cx="340.6" cy="189.0" r="2.5" fill="#2e75b6"/>
<circle cx="343.1" cy="188.2" r="2.5" fill="#2e75b6"/>
<circle cx="345.6" cy="187.4" r="2.5" fill="#2e75b6"/>
<circle cx="348.0" cy="186.7" r="2.5" fill="#2e75b6"/>
<circle cx="350.4" cy="185.9" r="2.5" fill="#2e75b6"/>
<circle cx="352.7" cy="185.1" r="2.5" fill="#2e75b6"/>
<circle cx="355.1" cy="184.4" r="2.5" fill="#2e75b6"/>
<circle cx="357.4" cy="183.6" r="2.5" fill="#2e75b6"/>
<circle cx="359.6" cy="182.9" r="2.5" fill="#2e75b6"/>
<circle cx="361.8" cy="182.2" r="2.5" fill="#2e75b6"/>
<circle cx="364.0" cy="181.5" r="2.5" fill="#2e75b6"/>
<line x1="252.8" y1="217.4" x2="365.0" y2="181.2" stroke="#e0303a" stroke-width="1.0"/>
</g>
<rect x="252.8" y="183.0" width="172.0" height="145.8" fill="none" stroke="#1a1a1a" stroke-width="1.1"/>
<line x1="285.0" y1="328.8" x2="285.0" y2="326.6" stroke="#1a1a1a" stroke-width="0.9"/>
<line x1="303.9" y1="328.8" x2="303.9" y2="326.6" stroke="#1a1a1a" stroke-width="0.9"/>
<line x1="317.2" y1="328.8" x2="317.2" y2="326.6" stroke="#1a1a1a" stroke-width="0.9"/>
<line x1="327.6" y1="328.8" x2="327.6" y2="326.6" stroke="#1a1a1a" stroke-width="0.9"/>
<line x1="336.1" y1="328.8" x2="336.1" y2="326.6" stroke="#1a1a1a" stroke-width="0.9"/>
<line x1="343.2" y1="328.8" x2="343.2" y2="326.6" stroke="#1a1a1a" stroke-width="0.9"/>
<line x1="349.4" y1="328.8" x2="349.4" y2="326.6" stroke="#1a1a1a" stroke-width="0.9"/>
<line x1="354.9" y1="328.8" x2="354.9" y2="326.6" stroke="#1a1a1a" stroke-width="0.9"/>
<line x1="392.0" y1="328.8" x2="392.0" y2="326.6" stroke="#1a1a1a" stroke-width="0.9"/>
<line x1="410.9" y1="328.8" x2="410.9" y2="326.6" stroke="#1a1a1a" stroke-width="0.9"/>
<line x1="424.2" y1="328.8" x2="424.2" y2="326.6" stroke="#1a1a1a" stroke-width="0.9"/>
<line x1="359.8" y1="328.8" x2="359.8" y2="325.0" stroke="#1a1a1a" stroke-width="1"/>
<line x1="252.8" y1="328.8" x2="255.6" y2="328.8" stroke="#1a1a1a" stroke-width="1"/>
<line x1="252.8" y1="319.4" x2="254.7" y2="319.4" stroke="#1a1a1a" stroke-width="0.9"/>
<line x1="252.8" y1="314.0" x2="254.7" y2="314.0" stroke="#1a1a1a" stroke-width="0.9"/>
<line x1="252.8" y1="310.1" x2="254.7" y2="310.1" stroke="#1a1a1a" stroke-width="0.9"/>
<line x1="252.8" y1="307.1" x2="254.7" y2="307.1" stroke="#1a1a1a" stroke-width="0.9"/>
<line x1="252.8" y1="304.6" x2="254.7" y2="304.6" stroke="#1a1a1a" stroke-width="0.9"/>
<line x1="252.8" y1="302.5" x2="254.7" y2="302.5" stroke="#1a1a1a" stroke-width="0.9"/>
<line x1="252.8" y1="300.7" x2="254.7" y2="300.7" stroke="#1a1a1a" stroke-width="0.9"/>
<line x1="252.8" y1="299.1" x2="254.7" y2="299.1" stroke="#1a1a1a" stroke-width="0.9"/>
<line x1="252.8" y1="297.7" x2="255.6" y2="297.7" stroke="#1a1a1a" stroke-width="1"/>
<line x1="252.8" y1="288.3" x2="254.7" y2="288.3" stroke="#1a1a1a" stroke-width="0.9"/>
<line x1="252.8" y1="282.9" x2="254.7" y2="282.9" stroke="#1a1a1a" stroke-width="0.9"/>
<line x1="252.8" y1="279.0" x2="254.7" y2="279.0" stroke="#1a1a1a" stroke-width="0.9"/>
<line x1="252.8" y1="276.0" x2="254.7" y2="276.0" stroke="#1a1a1a" stroke-width="0.9"/>
<line x1="252.8" y1="273.5" x2="254.7" y2="273.5" stroke="#1a1a1a" stroke-width="0.9"/>
<line x1="252.8" y1="271.4" x2="254.7" y2="271.4" stroke="#1a1a1a" stroke-width="0.9"/>
<line x1="252.8" y1="269.6" x2="254.7" y2="269.6" stroke="#1a1a1a" stroke-width="0.9"/>
<line x1="252.8" y1="268.0" x2="254.7" y2="268.0" stroke="#1a1a1a" stroke-width="0.9"/>
<line x1="252.8" y1="266.6" x2="255.6" y2="266.6" stroke="#1a1a1a" stroke-width="1"/>
<line x1="252.8" y1="257.2" x2="254.7" y2="257.2" stroke="#1a1a1a" stroke-width="0.9"/>
<line x1="252.8" y1="251.8" x2="254.7" y2="251.8" stroke="#1a1a1a" stroke-width="0.9"/>
<line x1="252.8" y1="247.9" x2="254.7" y2="247.9" stroke="#1a1a1a" stroke-width="0.9"/>
<line x1="252.8" y1="244.9" x2="254.7" y2="244.9" stroke="#1a1a1a" stroke-width="0.9"/>
<line x1="252.8" y1="242.4" x2="254.7" y2="242.4" stroke="#1a1a1a" stroke-width="0.9"/>
<line x1="252.8" y1="240.3" x2="254.7" y2="240.3" stroke="#1a1a1a" stroke-width="0.9"/>
<line x1="252.8" y1="238.5" x2="254.7" y2="238.5" stroke="#1a1a1a" stroke-width="0.9"/>
<line x1="252.8" y1="236.9" x2="254.7" y2="236.9" stroke="#1a1a1a" stroke-width="0.9"/>
<line x1="252.8" y1="235.5" x2="255.6" y2="235.5" stroke="#1a1a1a" stroke-width="1"/>
<line x1="252.8" y1="226.1" x2="254.7" y2="226.1" stroke="#1a1a1a" stroke-width="0.9"/>
<line x1="252.8" y1="220.7" x2="254.7" y2="220.7" stroke="#1a1a1a" stroke-width="0.9"/>
<line x1="252.8" y1="216.8" x2="254.7" y2="216.8" stroke="#1a1a1a" stroke-width="0.9"/>
<line x1="252.8" y1="213.8" x2="254.7" y2="213.8" stroke="#1a1a1a" stroke-width="0.9"/>
<line x1="252.8" y1="211.3" x2="254.7" y2="211.3" stroke="#1a1a1a" stroke-width="0.9"/>
<line x1="252.8" y1="209.2" x2="254.7" y2="209.2" stroke="#1a1a1a" stroke-width="0.9"/>
<line x1="252.8" y1="207.4" x2="254.7" y2="207.4" stroke="#1a1a1a" stroke-width="0.9"/>
<line x1="252.8" y1="205.8" x2="254.7" y2="205.8" stroke="#1a1a1a" stroke-width="0.9"/>
<line x1="252.8" y1="204.4" x2="255.6" y2="204.4" stroke="#1a1a1a" stroke-width="1"/>
<line x1="252.8" y1="195.0" x2="254.7" y2="195.0" stroke="#1a1a1a" stroke-width="0.9"/>
<line x1="252.8" y1="189.6" x2="254.7" y2="189.6" stroke="#1a1a1a" stroke-width="0.9"/>
<line x1="252.8" y1="185.7" x2="254.7" y2="185.7" stroke="#1a1a1a" stroke-width="0.9"/>
<text x="249.5" y="211.2" font-size="10.3" text-anchor="end" stroke="#000" stroke-width="0.2">10<tspan font-size="7" dy="-4">3</tspan></text>
<text x="249.5" y="272.4" font-size="10.3" text-anchor="end" stroke="#000" stroke-width="0.2">10<tspan font-size="7" dy="-4">1</tspan></text>
<text x="250.3" y="333.2" font-size="10.3" text-anchor="end" stroke="#000" stroke-width="0.2">10<tspan font-size="7" dy="-4">-1</tspan></text>
<text transform="translate(249.80,341.60) scale(1,1.050)" font-size="10.60" text-anchor="middle" fill="#000"  stroke="#000" stroke-width="0.2">0.1</text>
<text transform="translate(358.80,340.20) scale(1,1.050)" font-size="10.60" text-anchor="middle" fill="#000"  stroke="#000" stroke-width="0.2">1</text>
<text transform="translate(342.20,350.80) scale(1,0.910)" font-size="10.50" text-anchor="middle" fill="#000"  stroke="#000" stroke-width="0.2">Voltage (V)</text>
<text transform="translate(228.0,262.0) rotate(-90)" font-size="10.6" text-anchor="middle" stroke="#000" stroke-width="0.2">Current density (mA cm<tspan font-size="7" dy="-4">-2</tspan><tspan dy="4">)</tspan></text>
<text x="340.8" y="322.9" font-size="9.80" text-anchor="middle" fill="#000"  stroke="#000" stroke-width="0.2">ITO/PEIE/ZnMgO/Al</text>
<text transform="translate(267.8,209.2) rotate(-22)" font-size="10.5" text-anchor="middle" stroke="#000" stroke-width="0.2"><tspan font-size="12.5">&#8733;</tspan>V</text>
<text transform="translate(388.5,244.0) rotate(-30)" font-size="9.5" text-anchor="middle" stroke="#000" stroke-width="0.2"><tspan font-size="11">&#8733;</tspan>V<tspan font-size="6.5" dy="-3.5">2</tspan></text>
<text transform="translate(407.5,264.0) rotate(-40)" font-size="9.8" text-anchor="middle" stroke="#000" stroke-width="0.2"><tspan font-size="11">&#8733;</tspan>V<tspan font-size="7.2" dy="-3.5">4.5</tspan></text>
<line x1="255.3" y1="221.7" x2="272.2" y2="221.7" stroke="#000" stroke-width="1.5"/>
<circle cx="264" cy="221.7" r="2.6" fill="#000"/>
<text x="273.6" y="225.4" font-size="9.50" text-anchor="start" fill="#000"  stroke="#000" stroke-width="0.2">ZnMgO/Al</text>
<line x1="255.3" y1="234.2" x2="272.2" y2="234.2" stroke="#2e75b6" stroke-width="1.6"/>
<circle cx="264" cy="234.2" r="2.6" fill="#2e75b6"/>
<text x="273.6" y="237.2" font-size="9.5" stroke="#000" stroke-width="0.2">/<tspan fill="#2e75b6" stroke="#2e75b6">H<tspan font-size="6.8" dy="2">2</tspan><tspan dy="-2">O</tspan></tspan></text>
<line x1="255.3" y1="246.3" x2="272.2" y2="246.3" stroke="#ffc000" stroke-width="1.6"/>
<circle cx="264" cy="246.3" r="2.6" fill="#ffc000"/>
<text x="273.6" y="249.7" font-size="9.5" stroke="#000" stroke-width="0.2">/H<tspan font-size="6.8" dy="2">2</tspan><tspan dy="-2">O/</tspan><tspan fill="#ffc000" stroke="#ffc000">O<tspan font-size="6.8" dy="2">2</tspan></tspan></text>
<line x1="255.3" y1="257.9" x2="272.2" y2="257.9" stroke="#e0303a" stroke-width="1.1"/>
<text x="273.6" y="261.2" font-size="9.5" stroke="#000" stroke-width="0.2">/H<tspan font-size="6.8" dy="2">2</tspan><tspan dy="-2">O/O</tspan><tspan font-size="6.8" dy="2">2</tspan><tspan dy="-2">/</tspan><tspan fill="#2e75b6" stroke="#2e75b6">H<tspan font-size="6.8" dy="2">2</tspan><tspan dy="-2">O</tspan></tspan></text>
<text x="443.8" y="186.6" font-size="16.00" text-anchor="start" fill="#000" font-weight="bold" stroke="#000" stroke-width="0.2">f</text>
<circle cx="478.3" cy="264.3" r="31.7" fill="none" stroke="#111" stroke-width="1.1"/>
<line x1="455.9" y1="247.0" x2="501.2" y2="247.0" stroke="#000" stroke-width="1.5"/>
<line x1="457.0" y1="278.4" x2="500.8" y2="278.4" stroke="#000" stroke-width="1.5"/>
<line x1="462.2" y1="262.9" x2="496.7" y2="262.9" stroke="#c00000" stroke-width="1.6" stroke-dasharray="5.5,3.2"/>
<path d="M466.3,278 a2.7,2.7 0 0 1 5.4,0 z" fill="#000"/>
<path d="M473.6,278 a2.7,2.7 0 0 1 5.4,0 z" fill="#000"/>
<path d="M480.8,278 a2.7,2.7 0 0 1 5.4,0 z" fill="#000"/>
<path d="M488.3,278 a2.7,2.7 0 0 1 5.4,0 z" fill="#000"/>
<text x="451.8" y="255.2" font-size="8.80" text-anchor="start" fill="#000"  stroke="#000" stroke-width="0.2">CB</text>
<text x="451.8" y="277.4" font-size="8.80" text-anchor="start" fill="#000"  stroke="#000" stroke-width="0.2">VB</text>
<text x="450.0" y="265.0" font-size="9" fill="#c00000" stroke="#c00000" stroke-width="0.2">E<tspan font-size="6.3" dy="1.8">F</tspan></text>
<path d="M506.2,260.5 L509.4,255.3 L512.6,260.5 Z" fill="#000"/>
<path d="M506.2,266.3 L509.4,261.1 L512.6,266.3 Z" fill="#000"/>
<path d="M506.2,271.5 L509.4,266.3 L512.6,271.5 Z" fill="#000"/>
<line x1="505.4" y1="254.9" x2="513.3" y2="254.9" stroke="#000" stroke-width="1.1"/>
<line x1="505.4" y1="260.5" x2="513.3" y2="260.5" stroke="#000" stroke-width="1.1"/>
<line x1="505.4" y1="266.3" x2="513.3" y2="266.3" stroke="#000" stroke-width="1.1"/>
<line x1="505.4" y1="271.5" x2="513.3" y2="271.5" stroke="#000" stroke-width="1.1"/>
<circle cx="631.7" cy="265.9" r="31.2" fill="none" stroke="#111" stroke-width="1.1"/>
<line x1="609.8" y1="247.0" x2="653.6" y2="247.0" stroke="#000" stroke-width="1.5"/>
<line x1="609.8" y1="279.2" x2="653.6" y2="279.2" stroke="#000" stroke-width="1.5"/>
<line x1="611.6" y1="254.9" x2="653.6" y2="254.9" stroke="#c00000" stroke-width="1.6" stroke-dasharray="5.5,3.2"/>
<circle cx="628.1" cy="244.7" r="2.3" fill="#000"/>
<circle cx="642.2" cy="244.7" r="2.3" fill="#000"/>
<circle cx="618.0" cy="276.6" r="2.6" fill="#000"/>
<circle cx="625.1" cy="276.6" r="2.6" fill="#000"/>
<circle cx="632.5" cy="276.6" r="2.6" fill="#000"/>
<circle cx="639.6" cy="276.6" r="2.6" fill="#000"/>
<text x="623.8" y="241.6" font-size="10" stroke="#000" stroke-width="0.2">e<tspan font-size="7" dy="-3.5">-</tspan></text>
<text x="480.7" y="308.8" font-size="10.20" text-anchor="middle" fill="#000"  stroke="#000" stroke-width="0.2">pristine</text>
<text x="480.8" y="321.4" font-size="10.20" text-anchor="middle" fill="#000"  stroke="#000" stroke-width="0.2">ZnMgO</text>
<text x="632.6" y="308.0" font-size="10.20" text-anchor="middle" fill="#000"  stroke="#000" stroke-width="0.2">n-doped</text>
<text x="632.4" y="320.4" font-size="10.20" text-anchor="middle" fill="#000"  stroke="#000" stroke-width="0.2">ZnMgO</text>
<text x="499.0" y="211.8" font-size="10.6" stroke="#000" stroke-width="0.2">Al+H<tspan font-size="7.4" dy="2">2</tspan><tspan dy="-2">O</tspan></text>
<text x="529.4" y="242.8" font-size="9.8" stroke="#000" stroke-width="0.2">H<tspan font-size="7" dy="-3.5">&#8226;</tspan></text>
<text x="577.4" y="221.2" font-size="10.2" stroke="#000" stroke-width="0.2">H<tspan font-size="7.2" dy="2">2</tspan></text>
<line x1="593.8" y1="222.6" x2="593.8" y2="213.0" stroke="#111" stroke-width="0.9"/>
<polyline points="591.8,215.6 593.8,212.6 595.8,215.6" fill="none" stroke="#111" stroke-width="0.9"/>
<text x="587.2" y="244.6" font-size="10.2" stroke="#000" stroke-width="0.2">H<tspan font-size="7.6" dy="-3.5">+</tspan></text>
<text transform="translate(557.0,237.0) rotate(-40)" font-size="8.8" text-anchor="middle" stroke="#000" stroke-width="0.2">excess</text>
<path d="M515.2,215.4 C508,226 512,240 527.6,242.8" fill="none" stroke="#111" stroke-width="1.1"/>
<polyline points="523.45,244.53 527.60,242.80 523.90,240.24" fill="none" stroke="#111" stroke-width="1.10" stroke-linejoin="miter"/>
<path d="M537.0,245.4 C540,252 560,248 576.7,220.0" fill="none" stroke="#111" stroke-width="1.1"/>
<polyline points="576.29,224.48 576.70,220.00 572.71,222.08" fill="none" stroke="#111" stroke-width="1.10" stroke-linejoin="miter"/>
<path d="M537.0,245.4 C540,266 575,266 587.6,246.5" fill="none" stroke="#111" stroke-width="1.1"/>
<polyline points="586.82,250.93 587.60,246.50 583.45,248.24" fill="none" stroke="#111" stroke-width="1.10" stroke-linejoin="miter"/>
<line x1="524.10" y1="260.80" x2="599.40" y2="260.80" stroke="#111" stroke-width="1.10"/>
<polyline points="595.01,263.20 599.40,260.80 595.01,258.40" fill="none" stroke="#111" stroke-width="1.10" stroke-linejoin="miter"/>
</svg></body></html>
